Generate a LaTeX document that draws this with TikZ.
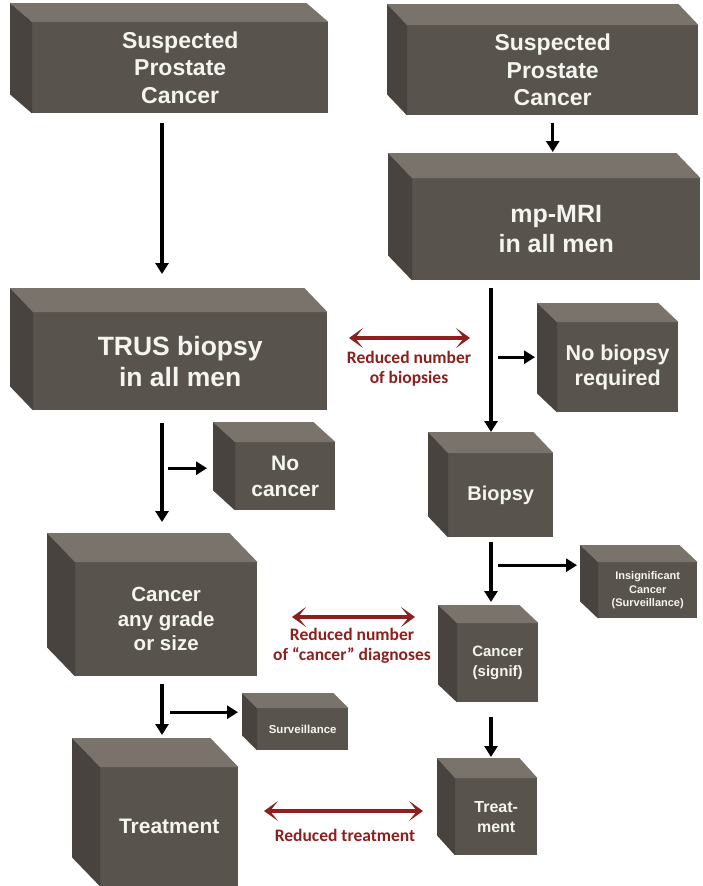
\documentclass[tikz,border=0pt]{standalone}
\usepackage{fontspec}
\setmainfont{Liberation Sans}
\newfontfamily\calfont{Carlito}
\usetikzlibrary{arrows.meta,calc}
\definecolor{frontc}{RGB}{88,83,77}
\definecolor{topc}{RGB}{121,115,108}
\definecolor{leftc}{RGB}{72,67,62}
\definecolor{txtc}{RGB}{245,245,240}
\definecolor{redc}{RGB}{140,32,30}
\tikzset{
  front/.style={fill=frontc, text=txtc, align=center, inner sep=0pt, anchor=north west},
  topface/.style={fill=topc},
  leftface/.style={fill=leftc},
  arr/.style={line width=3.1pt, -{Triangle[length=11pt,width=13pt]}},
  redarr/.style={redc, line width=4pt, {Stealth[length=14pt,width=20pt,inset=8pt]}-{Stealth[length=14pt,width=20pt,inset=8pt]}},
  redlab/.style={text=redc, align=center, inner sep=0pt, font=\calfont\bfseries\fontsize{17.5}{20}\selectfont},
}
\newcommand\cubebox[9]{%
  \node[front, minimum width=#4pt, minimum height=#5pt, #8] (#1) at (#2,#3) {#9};
  \fill[topface] (#1.north west) -- ++(-#6,-#7) -- ($(#1.north east)+(-#6,-#7)$) -- (#1.north east) -- cycle;
  \fill[leftface] (#1.north west) -- ++(-#6,-#7) -- ($(#1.south west)+(-#6,-#7)$) -- (#1.south west) -- cycle;
}
\begin{document}
\begin{tikzpicture}[x=1pt,y=-1pt]
\useasboundingbox (0,0) rectangle (702,886);
\coordinate (colL) at (162,0);
\coordinate (colR) at (491,0);
% boxes
\cubebox{A}{32}{22}{296}{91}{22}{19}{font=\bfseries\fontsize{23}{27.5}\selectfont}{Suspected\\Prostate\\Cancer}
\cubebox{B}{407}{25}{291}{90}{20}{21}{font=\bfseries\fontsize{23}{27.5}\selectfont}{Suspected\\Prostate\\Cancer}
\cubebox{TRUS}{33}{312}{294}{98}{23}{24}{font=\bfseries\fontsize{26.5}{31}\selectfont}{TRUS biopsy\\in all men}
\cubebox{MRI}{412}{178}{288}{102}{24}{25}{font=\bfseries\fontsize{25}{30}\selectfont}{mp-MRI\\in all men}
\cubebox{NoB}{557}{322}{121}{90}{20}{19}{font=\bfseries\fontsize{21.5}{25}\selectfont}{No biopsy\\required}
\cubebox{NoC}{235}{442}{100}{68}{22}{20}{font=\bfseries\fontsize{21}{26}\selectfont}{No\\cancer}
\cubebox{Bx}{448}{453}{105}{84}{20}{21}{font=\bfseries\fontsize{20}{24}\selectfont}{Biopsy}
\cubebox{Ins}{598}{562}{99}{56}{18}{17}{font=\bfseries\fontsize{11}{13.5}\selectfont}{Insignificant\\Cancer\\(Surveillance)}
\cubebox{CA}{75}{562}{182}{114}{28}{29}{font=\bfseries\fontsize{20.5}{24.5}\selectfont}{Cancer\\any grade\\or size}
\cubebox{CS}{457}{623}{81}{79}{19}{18}{font=\bfseries\fontsize{15}{20}\selectfont}{Cancer\\(signif)}
\cubebox{Sv}{257}{708}{91}{42}{15}{15}{font=\bfseries\fontsize{11.5}{13}\selectfont}{Surveillance}
\cubebox{Tl}{100}{767}{138}{119}{28}{29}{font=\bfseries\fontsize{21}{24}\selectfont}{Treatment}
\cubebox{TM}{455}{778}{82}{77}{18}{20}{font=\bfseries\fontsize{16}{20}\selectfont}{Treat-\\ment}
% black connectors
\draw[arr] ($(A.south -| colL)+(0,10)$) -- ($(TRUS.north -| colL)+(0,-38)$);
\draw[arr, shorten <=8pt, shorten >=26pt] (B.south) -- (B.south |- MRI.north);
\draw[arr] ($(MRI.south -| colR)+(0,8)$) -- ($(Bx.north -| colR)+(0,-21)$);
\draw[arr] ($(colR |- NoB.west)+(7,-10)$) -- ($(NoB.west)+(-22,-10)$);
\draw[arr] ($(TRUS.south -| colL)+(0,13)$) -- ($(CA.north -| colL)+(0,-40)$);
\draw[arr] ($(colL |- NoC.west)+(6,-8)$) -- ($(NoC.west)+(-28,-8)$);
\draw[arr] ($(Bx.south -| colR)+(0,5)$) -- ($(CS.north -| colR)+(0,-21)$);
\draw[arr] ($(colR |- Ins.west)+(7,-25)$) -- ($(Ins.west)+(-21,-25)$);
\draw[arr] ($(CA.south -| colL)+(0,8)$) -- ($(Tl.north -| colL)+(0,-32)$);
\draw[arr] ($(colL |- Sv.west)+(8,-17)$) -- ($(Sv.west)+(-19,-17)$);
\draw[arr] ($(CS.south -| colR)+(0,15)$) -- ($(TM.north -| colR)+(0,-21)$);
% red comparisons
\coordinate (r1a) at (349,338); \coordinate (r1b) at (470,338);
\coordinate (r2a) at (292,617); \coordinate (r2b) at (415,617);
\coordinate (r3a) at (264,811); \coordinate (r3b) at (423,811);
\draw[redarr] (r1a) -- (r1b);
\draw[redarr] (r2a) -- (r2b);
\draw[redarr] (r3a) -- (r3b);
\node[redlab] (l1) at (409,369) {Reduced number\\of biopsies};
\node[redlab] (l2) at (352,646) {Reduced number\\of “cancer” diagnoses};
\node[redlab] (l3) at (345,835) {Reduced treatment};
\end{tikzpicture}
\end{document}
